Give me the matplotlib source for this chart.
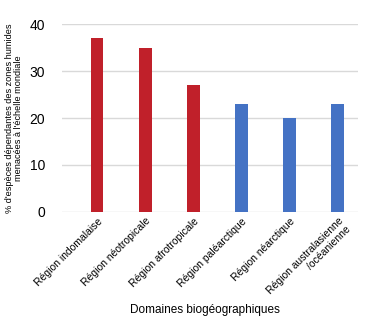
import matplotlib.pyplot as plt
from matplotlib import font_manager

# Regions and share of threatened wetland-dependent species (%)
regions = ['Région indomalaise', 'Région néotropicale', 'Région afrotropicale',
           'Région paléarctique', 'Région néarctique', 'Région australasienne\n/océanienne']
values = [37, 35, 27, 23, 20, 23]
groups = ['tropical', 'tropical', 'tropical', 'temperate', 'temperate', 'temperate']

colors = {'tropical': '#c0202a', 'temperate': '#4472c4'}

names = {f.name for f in font_manager.fontManager.ttflist}
family = ['Liberation Sans Narrow'] if 'Liberation Sans Narrow' in names else ['Liberation Sans']
plt.rcParams['font.family'] = family + ['DejaVu Sans']

fig = plt.figure(figsize=(3.66, 3.26), dpi=100)
ax = fig.add_axes([0.169, 0.350, 0.809, 0.576])

x = list(range(len(regions)))
ax.bar(x, values, width=0.27, color=[colors[g] for g in groups], zorder=3)

ax.set_ylim(0, 40)
ax.set_xlim(-0.73, 5.42)
ax.set_yticks([0, 10, 20, 30, 40])
ax.set_xticks(x)
ax.set_xticklabels(regions, rotation=45, ha='right', rotation_mode='anchor',
                   fontsize=7.5, linespacing=1.15)
ax.tick_params(axis='x', length=0, pad=3)
ax.tick_params(axis='y', length=0, labelsize=10, pad=12)
ax.grid(axis='y', color='#d9d9d9', linewidth=1, zorder=0)
for s in ax.spines.values():
    s.set_visible(False)

ax.set_ylabel("% d'espèces dépendantes des zones humides\nmenacées à l'échelle mondiale",
              fontsize=6.6, linespacing=1.0, labelpad=5)
fig.text(0.56, 0.04, 'Domaines biogéographiques', ha='center', fontsize=8.5)

fig.savefig('out.png', dpi=100)
